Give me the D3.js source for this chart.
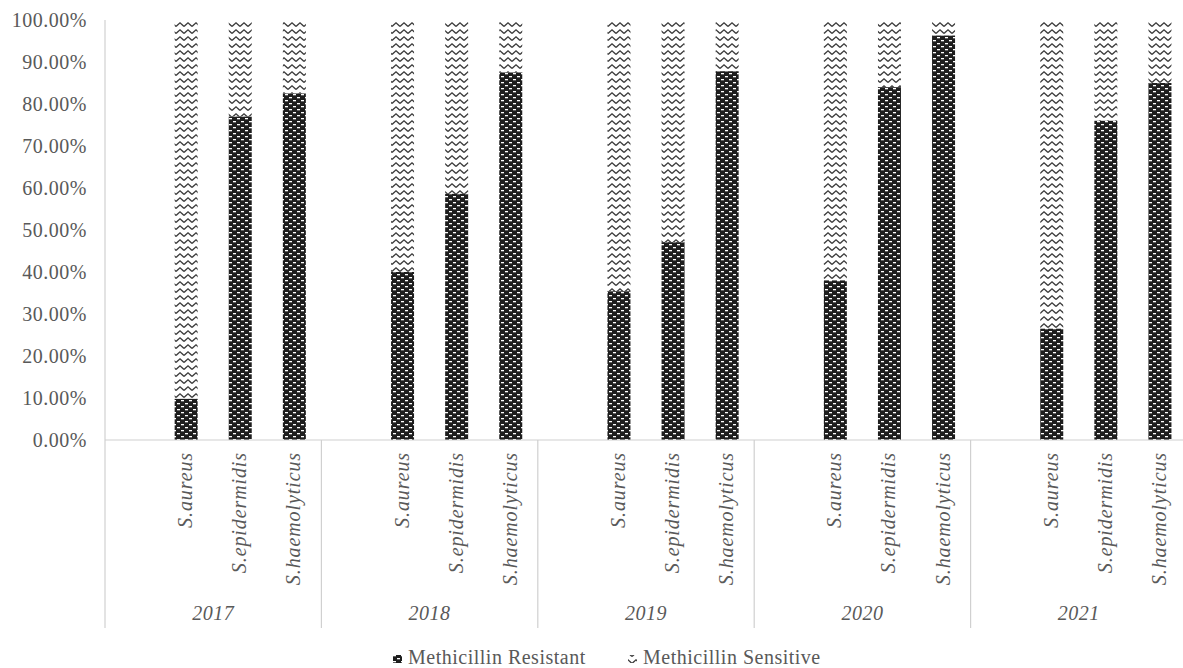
<!DOCTYPE html>
<html><head><meta charset="utf-8">
<script src="https://cdn.jsdelivr.net/npm/d3@7"></script>
<style>body{margin:0;background:#fff}svg{display:block}
text{font-family:"Liberation Serif","DejaVu Serif","Times New Roman",serif}</style>
</head><body><svg id="c" width="1183" height="668"></svg>
<script>
const years = ["2017","2018","2019","2020","2021"];
const species = ["S.aureus","S.epidermidis","S.haemolyticus"];
const resistant = [
  [9.8, 77.0, 82.5],
  [40.0, 58.6, 87.5],
  [35.4, 47.1, 87.8],
  [38.0, 84.0, 96.3],
  [26.5, 76.0, 85.0]
];
const yTicks = [0,10,20,30,40,50,60,70,80,90,100];
const seriesNames = ["Methicillin Resistant","Methicillin Sensitive"];

const svg = d3.select("#c");
const L = 105, R = 1187, T = 20, B = 440, catBottom = 628;
const grey = "#595959";

const defs = svg.append("defs");
const pr = defs.append("pattern").attr("id","pres").attr("patternUnits","userSpaceOnUse")
  .attr("width",8).attr("height",6);
pr.append("rect").attr("width",8).attr("height",6).attr("fill","#1e1e1e");
pr.append("rect").attr("x",1).attr("y",1).attr("width",3).attr("height",1.3).attr("fill","#fff");
pr.append("rect").attr("x",5).attr("y",4).attr("width",3).attr("height",1.3).attr("fill","#fff");
pr.append("rect").attr("x",-3).attr("y",4).attr("width",3).attr("height",1.3).attr("fill","#fff");
const ps = defs.append("pattern").attr("id","psen").attr("patternUnits","userSpaceOnUse")
  .attr("width",8).attr("height",7);
ps.append("rect").attr("width",8).attr("height",7).attr("fill","#fff");
ps.append("path").attr("d","M0,5.5 L4,1.8 L8,5.5").attr("fill","none")
  .attr("stroke","#3a3a3a").attr("stroke-width",1.3);

const keys = [];
years.forEach(y => { keys.push(y+"|_"); species.forEach(s => keys.push(y+"|"+s)); });
const x = d3.scaleBand().domain(keys).range([L,R]).paddingInner(0.575).paddingOuter(0.2875);
const step = x.step();
const y = d3.scaleLinear().domain([0,100]).range([B,T]);

const yAxis = d3.axisLeft(y).tickValues(yTicks).tickSize(0).tickPadding(18)
  .tickFormat(d => d.toFixed(2)+"%");
const ya = svg.append("g").attr("transform",`translate(${L},0)`).call(yAxis);
ya.select(".domain").remove();
ya.attr("font-family",null);
ya.selectAll("text").attr("font-size",20).attr("letter-spacing",0.5).attr("fill",grey);
svg.append("line").attr("x1",L).attr("x2",L).attr("y1",T).attr("y2",catBottom)
  .attr("stroke","#d0d0d0").attr("stroke-width",1.2);

const data = [];
years.forEach((yr,i) => species.forEach((s,j) => data.push({yr, s, r: resistant[i][j]})));
const g = svg.append("g");
g.selectAll(".sen").data(data).join("rect").attr("class","sen")
  .attr("x", d => x(d.yr+"|"+d.s)).attr("width", x.bandwidth())
  .attr("y", y(100)).attr("height", d => y(d.r) - y(100)).attr("fill","url(#psen)");
g.selectAll(".res").data(data).join("rect").attr("class","res")
  .attr("x", d => x(d.yr+"|"+d.s)).attr("width", x.bandwidth())
  .attr("y", d => y(d.r)).attr("height", d => B - y(d.r)).attr("fill","url(#pres)");

svg.append("line").attr("x1",L).attr("x2",R).attr("y1",B).attr("y2",B)
  .attr("stroke","#d0d0d0").attr("stroke-width",1.2);

years.forEach((yr,i) => {
  const gx = L + i*4*step;
  if (i>0) svg.append("line").attr("x1",gx).attr("x2",gx).attr("y1",B).attr("y2",catBottom)
    .attr("stroke","#d0d0d0").attr("stroke-width",1.2);
  svg.append("text").attr("x", gx + 2*step).attr("y", 620).attr("text-anchor","middle")
    .attr("font-style","italic").attr("font-size",20).attr("letter-spacing",0.5).attr("fill",grey).text(yr);
});

svg.append("g").selectAll("text").data(data).join("text")
  .attr("transform", d => `translate(${x(d.yr+"|"+d.s)+x.bandwidth()/2+6},452) rotate(-90)`)
  .attr("text-anchor","end").attr("font-style","italic")
  .attr("font-size",20).attr("letter-spacing",0.9).attr("fill",grey).text(d => d.s);

const leg = svg.append("g");
const lx = [393, 628];
seriesNames.forEach((n,i) => {
  leg.append("rect").attr("x",lx[i]).attr("y",655).attr("width",9).attr("height",8)
    .attr("fill", i===0 ? "url(#pres)" : "url(#psen)");
  leg.append("text").attr("x",lx[i]+15).attr("y",664)
    .attr("font-size",20).attr("letter-spacing",0.5).attr("fill",grey).text(n);
});
</script></body></html>
